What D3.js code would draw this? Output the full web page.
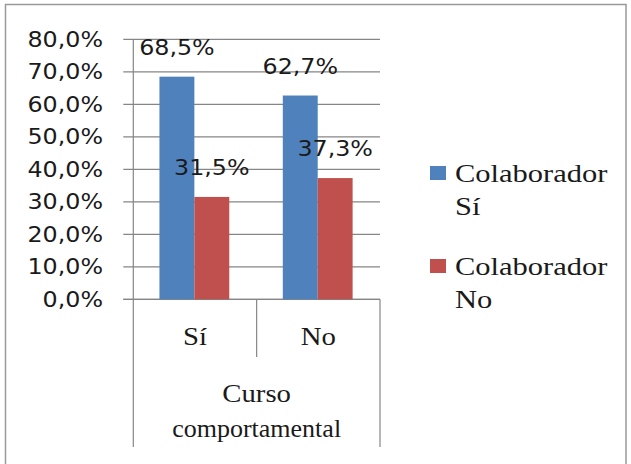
<!DOCTYPE html>
<html>
<head>
<meta charset="utf-8">
<script src="https://cdn.jsdelivr.net/npm/d3@7"></script>
<style>
  html, body { margin: 0; padding: 0; background: #fff; }
  svg { display: block; }
</style>
</head>
<body>
<script>
// ---- Data ----
const categories = ["Sí", "No"];
const seriesNames = ["Colaborador Sí", "Colaborador No"];
const colabSi = [68.5, 62.7];
const colabNo = [31.5, 37.3];
const yTicks = [0, 10, 20, 30, 40, 50, 60, 70, 80];
const groupLabel = ["Curso", "comportamental"];

// ---- Layout ----
const W = 631, H = 464;
const colors = ["#4F81BD", "#C0504D"];
const axisColor = "#868686";
const plot = { left: 133.3, right: 380, top: 39.3, bottom: 299.3 };

const svg = d3.select("body").append("svg").attr("width", W).attr("height", H);
svg.append("rect").attr("width", W).attr("height", H).attr("fill", "#fff");
svg.append("rect").attr("x", 5.5).attr("y", 4.5).attr("width", 620.5).attr("height", 470)
  .attr("fill", "none").attr("stroke", "#9a9a9a").attr("stroke-width", 1.5);

const y = d3.scaleLinear().domain([0, 80]).range([plot.bottom, plot.top]);
const x0 = d3.scaleBand().domain(categories).range([plot.left, plot.right]).paddingInner(0).paddingOuter(0);
const bw = x0.bandwidth();
const x1 = d3.scaleBand().domain([0, 1]).range([bw * 0.212, bw * 0.778]);

const fmt = v => d3.format(".1f")(v).replace(".", ",") + "%";

function txt(g, x, yy, s, opts) {
  const t = g.append("text")
    .attr("transform", `translate(${x},${yy}) scale(${opts.sx || 1},1)`)
    .attr("text-anchor", opts.anchor || "middle")
    .attr("font-family", opts.font)
    .attr("font-size", opts.size)
    .attr("fill", "#1a1a1a")
    .text(s);
  return t;
}
const SANS = "'DejaVu Sans', Verdana, sans-serif";
const SERIF = "'Liberation Serif', 'Times New Roman', serif";

// gridlines + tick marks
const grid = svg.append("g");
yTicks.forEach(t => {
  grid.append("line").attr("x1", plot.left - 10).attr("x2", plot.right)
    .attr("y1", y(t)).attr("y2", y(t)).attr("stroke", axisColor).attr("stroke-width", 1.2);
  txt(grid, 103, y(t) + 7.5, fmt(t), { anchor: "end", font: SANS, size: 20.5, sx: 1.16 });
});
// vertical axis
grid.append("line").attr("x1", plot.left).attr("x2", plot.left).attr("y1", plot.top).attr("y2", plot.bottom)
  .attr("stroke", axisColor).attr("stroke-width", 1.2);

// bars
const series = [colabSi, colabNo];
const barsG = svg.append("g");
series.forEach((vals, si) => {
  vals.forEach((v, ci) => {
    const bx = x0(categories[ci]) + x1(si);
    barsG.append("rect")
      .attr("x", bx).attr("y", y(v))
      .attr("width", x1.bandwidth()).attr("height", y(0) - y(v))
      .attr("fill", colors[si]);
  });
});
// redraw baseline over bars
grid.append("line").attr("x1", plot.left - 10).attr("x2", plot.right)
  .attr("y1", y(0)).attr("y2", y(0)).attr("stroke", axisColor).attr("stroke-width", 1.2);

// data labels
series.forEach((vals, si) => {
  vals.forEach((v, ci) => {
    const cx = x0(categories[ci]) + x1(si) + x1.bandwidth() / 2;
    txt(barsG, cx, y(v) - 22, fmt(v), { font: SANS, size: 20.5, sx: 1.16 });
  });
});

// category axis (multi-level)
const cat = svg.append("g");
const catBottom = 447, innerBottom = 357;
cat.append("line").attr("x1", plot.left).attr("x2", plot.left).attr("y1", plot.bottom).attr("y2", catBottom)
  .attr("stroke", axisColor).attr("stroke-width", 1.2);
cat.append("line").attr("x1", plot.right).attr("x2", plot.right).attr("y1", plot.bottom).attr("y2", catBottom)
  .attr("stroke", axisColor).attr("stroke-width", 1.2);
categories.slice(1).forEach(c => {
  cat.append("line").attr("x1", x0(c)).attr("x2", x0(c)).attr("y1", plot.bottom).attr("y2", innerBottom)
    .attr("stroke", axisColor).attr("stroke-width", 1.2);
});
categories.forEach(c => {
  txt(cat, x0(c) + bw / 2, 345, c, { font: SERIF, size: 25, sx: 1.15 });
});
const gc = (plot.left + plot.right) / 2;
txt(cat, gc, 402, groupLabel[0], { font: SERIF, size: 25, sx: 1.15 });
txt(cat, gc, 437, groupLabel[1], { font: SERIF, size: 25, sx: 1.04 });

// legend
const leg = svg.append("g");
const legY = [166, 259];
seriesNames.forEach((name, i) => {
  const parts = name.split(" ");
  leg.append("rect").attr("x", 430).attr("y", legY[i]).attr("width", 16).attr("height", 14).attr("fill", colors[i]);
  txt(leg, 455, legY[i] + 16, parts[0], { anchor: "start", font: SERIF, size: 25, sx: 1.22 });
  txt(leg, 455, legY[i] + 49, parts[1], { anchor: "start", font: SERIF, size: 25, sx: 1.22 });
});
</script>
</body>
</html>
